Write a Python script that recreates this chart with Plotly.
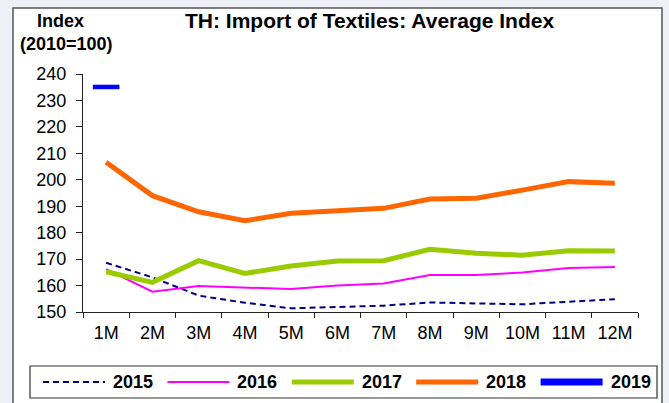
import plotly.graph_objects as go

# Monthly average import index of textiles (2010=100)
months = ["1M", "2M", "3M", "4M", "5M", "6M", "7M", "8M", "9M", "10M", "11M", "12M"]
idx_2015 = [168.6, 163.1, 156.2, 153.5, 151.4, 152.0, 152.4, 153.6, 153.3, 152.9, 153.9, 154.8]
idx_2016 = [166.2, 157.7, 159.8, 159.2, 158.7, 160.0, 160.8, 164.0, 164.0, 164.9, 166.6, 167.0]
idx_2017 = [165.2, 161.2, 169.4, 164.6, 167.4, 169.3, 169.4, 173.7, 172.2, 171.5, 173.2, 173.1]
idx_2018 = [206.6, 194.0, 187.9, 184.5, 187.3, 188.4, 189.2, 192.7, 193.0, 196.1, 199.3, 198.7]
idx_2019 = [235.1]

years = ["2015", "2016", "2017", "2018", "2019"]
y_ticks = [150, 160, 170, 180, 190, 200, 210, 220, 230, 240]

FONT = "Liberation Sans, Arial, sans-serif"
W, H = 669, 403
L, R, T, B = 83, 31, 74, 91
PW, PH = W - L - R, H - T - B

styles = {
    "2015": dict(color="#000080", width=2, dash="6px,4px"),
    "2016": dict(color="#FF00FF", width=2, dash="solid"),
    "2017": dict(color="#99CC00", width=5, dash="solid"),
    "2018": dict(color="#FF6600", width=5, dash="solid"),
    "2019": dict(color="#0000FF", width=7, dash="solid"),
}
series = {"2015": idx_2015, "2016": idx_2016, "2017": idx_2017, "2018": idx_2018}

fig = go.Figure()
for yr, vals in series.items():
    st = styles[yr]
    fig.add_trace(go.Scatter(
        x=months[:len(vals)], y=vals, mode="lines", name=yr,
        line=dict(color=st["color"], width=st["width"], dash=st["dash"]),
        showlegend=False, hoverinfo="x+y+name",
    ))

# 2019 has a single month, drawn as a short horizontal bar
fig.add_trace(go.Scatter(
    x=months[:len(idx_2019)], y=idx_2019, mode="markers", name="2019",
    marker=dict(symbol="line-ew", size=19,
                line=dict(color=styles["2019"]["color"], width=4.5)),
    showlegend=False,
))


def px_x(p):
    return (p - L) / PW


def px_y(p):
    return (H - B - p) / PH


shapes = [
    # white chart frame
    dict(type="rect", xref="paper", yref="paper",
         x0=px_x(13), x1=px_x(662), y0=px_y(420), y1=px_y(8),
         fillcolor="white", line=dict(color="#555555", width=1.5), layer="below"),
    # legend box
    dict(type="rect", xref="paper", yref="paper",
         x0=px_x(30), x1=px_x(657), y0=px_y(398), y1=px_y(366),
         fillcolor="white", line=dict(color="#333333", width=1.2)),
]
annotations = [
    dict(text="<b>TH: Import of Textiles: Average Index</b>", xref="paper", yref="paper",
         x=px_x(369), y=px_y(21), showarrow=False, xanchor="center", yanchor="middle",
         font=dict(family=FONT, size=21, color="black")),
    dict(text="<b>Index</b>", xref="paper", yref="paper",
         x=px_x(60), y=px_y(21), showarrow=False, xanchor="center", yanchor="middle",
         font=dict(family=FONT, size=18, color="black")),
    dict(text="<b>(2010=100)</b>", xref="paper", yref="paper",
         x=px_x(66), y=px_y(44), showarrow=False, xanchor="center", yanchor="middle",
         font=dict(family=FONT, size=18, color="black")),
]

# custom legend with long line samples
leg_y = 382
for i, yr in enumerate(years):
    x0 = 43 + i * 124.4
    st = styles[yr]
    shapes.append(dict(type="line", xref="paper", yref="paper",
                       x0=px_x(x0), x1=px_x(x0 + 62), y0=px_y(leg_y), y1=px_y(leg_y),
                       line=dict(color=st["color"], width=st["width"], dash=st["dash"])))
    annotations.append(dict(text="<b>%s</b>" % yr, xref="paper", yref="paper",
                            x=px_x(x0 + 68), y=px_y(leg_y), showarrow=False,
                            xanchor="left", yanchor="middle",
                            font=dict(family=FONT, size=18, color="black")))

fig.update_layout(
    width=W, height=H,
    margin=dict(l=L, r=R, t=T, b=B),
    paper_bgcolor="#eff0f7",
    plot_bgcolor="rgba(0,0,0,0)",
    shapes=shapes,
    annotations=annotations,
    showlegend=False,
    font=dict(family=FONT, size=18, color="black"),
)
fig.update_xaxes(
    type="category", categoryorder="array", categoryarray=months,
    range=[-0.5, 11.5], tickson="boundaries", ticks="outside", ticklen=5,
    tickcolor="#222", showline=True, linecolor="#222", linewidth=1,
    showgrid=False, zeroline=False, tickfont=dict(family=FONT, size=18),
    ticklabelstandoff=4,
)
fig.update_yaxes(
    range=[150, 240], tickvals=y_ticks, ticks="outside", ticklen=6,
    tickcolor="#222", showline=True, linecolor="#222", linewidth=1,
    showgrid=False, zeroline=False, tickfont=dict(family=FONT, size=18),
    ticklabelstandoff=6,
)

fig.write_html("out.html")
